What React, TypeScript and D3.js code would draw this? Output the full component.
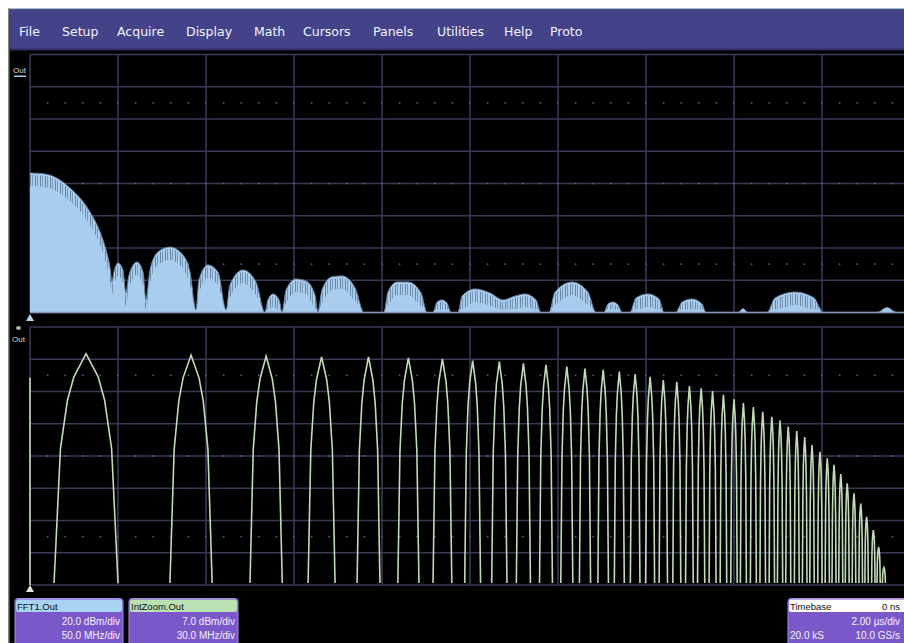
import * as d3 from "d3";
import { useEffect, useRef } from "react";

// menu bar
const menuItems = ["File", "Setup", "Acquire", "Display", "Math", "Cursors", "Panels", "Utilities", "Help", "Proto"];
const menuX = [19, 62, 117, 186, 254, 303, 373, 437, 504, 550];

// FFT1.Out spectrum (MHz, dBm)
const fftFreq = [
  0, 8.5, 17, 22.7, 28.4, 34.1, 39.8, 43.2, 45.5, 46.6, 47.7, 50, 52.8, 54.5, 56.3, 60.8, 64.2, 65.9,
  68.2, 72.7, 79.5, 86.4, 90.9, 94.3, 96, 101.1, 106.8, 111.4, 113.6, 121, 128.4, 133.5, 135.2, 138.1,
  141.5, 143.2, 145.5, 151.1, 156.8, 161.9, 163.6, 165.9, 171.6, 177.3, 184.7, 189.8, 201.1, 203.4,
  208.5, 214.8, 222.2, 225.6, 229, 231.3, 234.1, 236.9, 239.2, 243.2, 245.5, 252.8, 261.4, 268.8,
  275.6, 281.3, 287.5, 290.3, 294.9, 298.3, 308, 317, 321.6, 326.1, 328.4, 331.3, 334.1, 336.4,
  340.9, 344.3, 351.1, 357.4, 360.2, 367, 370.5, 376.1, 381.8, 384.1, 402.3, 405.1, 408, 418.8,
  423.3, 434.7, 445.5, 450.6, 481.3, 486.9, 492.6, 500,
];
const fftLevel = [
  -73.5, -74.1, -77.8, -82.8, -89, -97.7, -110.1, -121.3, -132.4, -141.1, -134.9, -129.3, -133.7, -147.9, -136.7, -128.7, -134.9, -152.2,
  -133.6, -122.5, -119.4, -123.7, -134.9, -158.4, -139.8, -130.5, -134.9, -158.4, -142.9, -133.6, -141.1, -160, -152.2, -148.5,
  -152.2, -160, -146, -139.2, -140.5, -149.1, -160, -146, -137.9, -137.3, -144.8, -160, -160, -147.3,
  -141.1, -141.1, -147.9, -160, -160, -153.5, -152.2, -154.1, -160, -160, -149.8, -145.4, -147.9, -152.2,
  -149.8, -148.5, -152.2, -160, -160, -147.3, -141.1, -147.3, -160, -160, -154.7, -153.5, -155.3, -160,
  -160, -151, -148.5, -151.6, -160, -160, -153.5, -151.6, -154.7, -160, -160, -157.5, -160, -160,
  -151, -147.3, -151, -160, -160, -156.9, -160, -160,
];

// IntZoom.Out arches: centre (MHz), half width (MHz), peak (dB)
const archFreq = [
  19.1, 54.9, 80.5, 99.4, 115.4, 129, 140.6, 150.9, 160, 168.2, 175.9, 183, 189.2, 195.4, 200.9,
  206.3, 211.4, 215.9, 220.5, 224.8, 228.8, 232.7, 236.4, 240, 243.2, 246.6, 249.8, 252.9, 255.7,
  258.5, 261.4, 264.1, 266.6, 269.3, 271.8, 274.1, 276.4, 278.6, 280.9, 283.2, 285.2, 287.5, 289.3, 291.1,
];
const archHalfWidth = [
  10.9, 7.2, 5.5, 4.6, 3.9, 3.6, 3.2, 2.7, 2.6, 2.4, 2.2, 2.05, 1.9, 1.8, 1.7,
  1.64, 1.53, 1.43, 1.36, 1.3, 1.23, 1.19, 1.12, 1.09, 1.02, 1.02, 0.95, 0.92, 0.89,
  0.85, 0.82, 0.78, 0.75, 0.75, 0.72, 0.68, 0.68, 0.65, 0.61, 0.61, 0.58, 0.58, 0.55, 0.51,
];
const archLevel = [
  50.2, 49.9, 49.7, 49.5, 49.5, 49.3, 49.1, 48.7, 48.5, 48.1, 47.8, 47.4, 47, 46.7, 46.3,
  45.8, 45.2, 44.5, 44.1, 43.2, 42.7, 42.1, 41.3, 40.3, 39.5, 38.6, 37.6, 36.5, 35.7,
  34.4, 33.4, 32.1, 30.4, 28.9, 27.5, 26.1, 24.1, 22.1, 19.9, 17.7, 14.8, 11.9, 8.3, 3.8,
];
const zoomLeadIn = [45, 0];

// shape of one arch (offset in half widths, fraction of peak)
const archProfile = [
  [-1, 0], [-0.8, 0.59], [-0.58, 0.8], [-0.38, 0.9], [0, 1], [0.38, 0.9], [0.58, 0.8], [0.8, 0.59], [1, 0],
];

const W = 904;
const H = 643;
const gridColor = "#3b3958";
const dotColor = "#5e5b80";

const App = () => {
  const svgRef = useRef<SVGSVGElement>(null);

  useEffect(() => {
    const svg = d3.select(svgRef.current);
    svg.selectAll("*").remove();

    const xTop = d3.scaleLinear().domain([0, 500]).range([30, 910]);
    const yTop = d3.scaleLinear().domain([-160, 0]).range([312.5, 54.5]);
    const xBot = d3.scaleLinear().domain([0, 300]).range([30, 910]);
    const yBot = d3.scaleLinear().domain([0, 56]).range([585, 327]);

    // background / frame
    svg.append("rect").attr("width", W).attr("height", H).attr("fill", "#fff");
    svg.append("rect").attr("x", 8).attr("y", 8).attr("width", W).attr("height", H).attr("fill", "#000");
    svg.append("rect").attr("x", 8).attr("y", 8).attr("width", 1.5).attr("height", H).attr("fill", "#7d8c7a");
    svg.append("rect").attr("x", 9).attr("y", 8).attr("width", W).attr("height", 1.5).attr("fill", "#9fc3d0");
    svg.append("rect").attr("x", 9.5).attr("y", 9.5).attr("width", W).attr("height", 40.5).attr("fill", "#44438a");
    svg.append("rect").attr("x", 9.5).attr("y", 48.5).attr("width", W).attr("height", 2).attr("fill", "#2e2d60");

    svg
      .append("g")
      .selectAll("text")
      .data(menuItems)
      .join("text")
      .attr("x", (_, i) => menuX[i])
      .attr("y", 36)
      .attr("font-family", "DejaVu Sans")
      .attr("font-size", 12.5)
      .attr("fill", "#f2f2ff")
      .text((d) => d);

    const defs = svg.append("defs");
    const pat = defs
      .append("pattern")
      .attr("id", "stripes")
      .attr("patternUnits", "userSpaceOnUse")
      .attr("width", 5)
      .attr("height", 4);
    pat.append("rect").attr("width", 1).attr("height", 4).attr("fill", "#55708e");
    pat.append("rect").attr("x", 2).attr("width", 1).attr("height", 4).attr("fill", "#6a86a4");

    // grid for one panel
    const drawGrid = (
      x: d3.ScaleLinear<number, number>,
      y: d3.ScaleLinear<number, number>,
      xs: number[],
      ys: number[],
      dotRows: number[],
      dotStep: number
    ) => {
      const g = svg.append("g");
      const [y0, y1] = y.range();
      g.selectAll("line.v")
        .data(xs)
        .join("line")
        .attr("x1", (d) => x(d))
        .attr("x2", (d) => x(d))
        .attr("y1", y1)
        .attr("y2", y0)
        .attr("stroke", gridColor)
        .attr("stroke-width", 1.6);
      g.selectAll("line.h")
        .data(ys)
        .join("line")
        .attr("x1", x.range()[0])
        .attr("x2", W)
        .attr("y1", (d) => y(d))
        .attr("y2", (d) => y(d))
        .attr("stroke", gridColor)
        .attr("stroke-width", 1.6);
      const [d0, d1] = x.domain();
      const dots: [number, number][] = [];
      dotRows.forEach((r) => {
        for (let v = d0 + dotStep; v < d1; v += dotStep) dots.push([v, r]);
      });
      g.selectAll("rect.dot")
        .data(dots)
        .join("rect")
        .attr("x", (d) => x(d[0]) - 0.8)
        .attr("y", (d) => y(d[1]) - 0.8)
        .attr("width", 1.6)
        .attr("height", 1.6)
        .attr("fill", dotColor);
    };

    drawGrid(xTop, yTop, d3.range(0, 501, 50), d3.range(-160, 1, 20), [-30, -80, -130], 10);
    drawGrid(xBot, yBot, d3.range(0, 301, 30), d3.range(0, 57, 7), [45.5, 28, 10.5], 6);

    // spectrum
    const spec = fftFreq.map((f, i) => ({ f, v: fftLevel[i] }));
    const base = yTop(-160);
    const area = d3
      .area<{ f: number; v: number }>()
      .x((d) => xTop(d.f))
      .y0(base)
      .y1((d) => yTop(d.v))
      .curve(d3.curveMonotoneX);
    svg.append("path").datum(spec).attr("d", area).attr("fill", "#a9cdee");

    // hatched band just under the trace
    const band = d3
      .area<{ f: number; v: number }>()
      .x((d) => xTop(d.f))
      .y0((d) => Math.min(yTop(d.v) + 13, base - 3))
      .y1((d) => Math.min(yTop(d.v) + 2, Math.min(yTop(d.v) + 13, base - 3)))
      .curve(d3.curveMonotoneX);
    svg.append("path").datum(spec).attr("d", band).attr("fill", "url(#stripes)").attr("opacity", 0.75);

    const edge = d3
      .line<{ f: number; v: number }>()
      .x((d) => xTop(d.f))
      .y((d) => yTop(d.v))
      .curve(d3.curveMonotoneX);
    svg.append("path").datum(spec).attr("d", edge).attr("fill", "none").attr("stroke", "#6a86a3").attr("stroke-width", 1);
    svg
      .append("line")
      .attr("x1", xTop(0))
      .attr("x2", W)
      .attr("y1", base)
      .attr("y2", base)
      .attr("stroke", "#7e9bb8")
      .attr("stroke-width", 1.5);

    // zoom trace
    const wave = svg.append("g").attr("fill", "none").attr("stroke", "#bfdcb5").attr("stroke-width", 1.6);
    wave
      .append("line")
      .attr("x1", xBot(0))
      .attr("x2", xBot(0))
      .attr("y1", yBot(zoomLeadIn[0]))
      .attr("y2", yBot(zoomLeadIn[1]));
    const archLine = d3.line<number[]>();
    archFreq.forEach((c, i) => {
      const pts = archProfile.map(([u, h]) => [
        xBot(c + u * archHalfWidth[i]),
        yBot(h * archLevel[i]) + (h === 0 ? -2 : 0),
      ]);
      wave.append("path").attr("d", archLine(pts as [number, number][]));
    });

    // markers and labels
    svg.append("text").attr("x", 13).attr("y", 73).attr("font-family", "Liberation Sans").attr("font-size", 8).attr("fill", "#cfd8e0").text("Out");
    svg.append("rect").attr("x", 14).attr("y", 75.5).attr("width", 12).attr("height", 1.5).attr("fill", "#a9cdee");
    svg.append("path").attr("d", "M30,314 L26,321 L34,321 Z").attr("fill", "#b6d8f2");
    svg.append("ellipse").attr("cx", 18.5).attr("cy", 328).attr("rx", 2.5).attr("ry", 2).attr("fill", "#a8b4a4");
    svg.append("text").attr("x", 12).attr("y", 342).attr("font-family", "Liberation Sans").attr("font-size", 8).attr("fill", "#cfd8c8").text("Out");
    svg.append("path").attr("d", "M30,585 L26,592 L34,592 Z").attr("fill", "#dfe9da");

    // info boxes
    const box = (x: number, w: number, head: string, title: string, right: string, lines: string[][], textRight: number) => {
      const g = svg.append("g");
      g.append("rect").attr("x", x).attr("y", 598.5).attr("width", w).attr("height", 60).attr("rx", 3).attr("fill", "#7b58c9").attr("stroke", "#a88ce6").attr("stroke-width", 1);
      g.append("rect").attr("x", x + 1).attr("y", 599.5).attr("width", w - 2).attr("height", 12.5).attr("rx", 2).attr("fill", head);
      g.append("text").attr("x", x + 2).attr("y", 609.5).attr("font-family", "Liberation Sans").attr("font-size", 9.5).attr("fill", "#111").text(title);
      if (right) g.append("text").attr("x", textRight).attr("y", 609.5).attr("text-anchor", "end").attr("font-family", "Liberation Sans").attr("font-size", 9.5).attr("fill", "#111").text(right);
      lines.forEach((ln, i) => {
        if (ln[0]) g.append("text").attr("x", x + 2).attr("y", 625 + i * 14).attr("font-family", "Liberation Sans").attr("font-size", 10).attr("fill", "#f4f0ff").text(ln[0]);
        g.append("text").attr("x", textRight).attr("y", 625 + i * 14).attr("text-anchor", "end").attr("font-family", "Liberation Sans").attr("font-size", 10).attr("fill", "#f4f0ff").text(ln[1]);
      });
    };
    box(15, 108, "#a9d3f3", "FFT1.Out", "", [["", "20.0 dBm/div"], ["", "50.0 MHz/div"]], 120);
    box(129, 109, "#b9e1b1", "IntZoom.Out", "", [["", "7.0 dBm/div"], ["", "30.0 MHz/div"]], 235);
    box(788, 140, "#ffffff", "Timebase", "0 ns", [["", "2.00 µs/div"], ["20.0 kS", "10.0 GS/s"]], 900);
  }, []);

  return <svg ref={svgRef} width={W} height={H} style={{ position: "absolute", left: 0, top: 0 }} />;
};

export default App;
